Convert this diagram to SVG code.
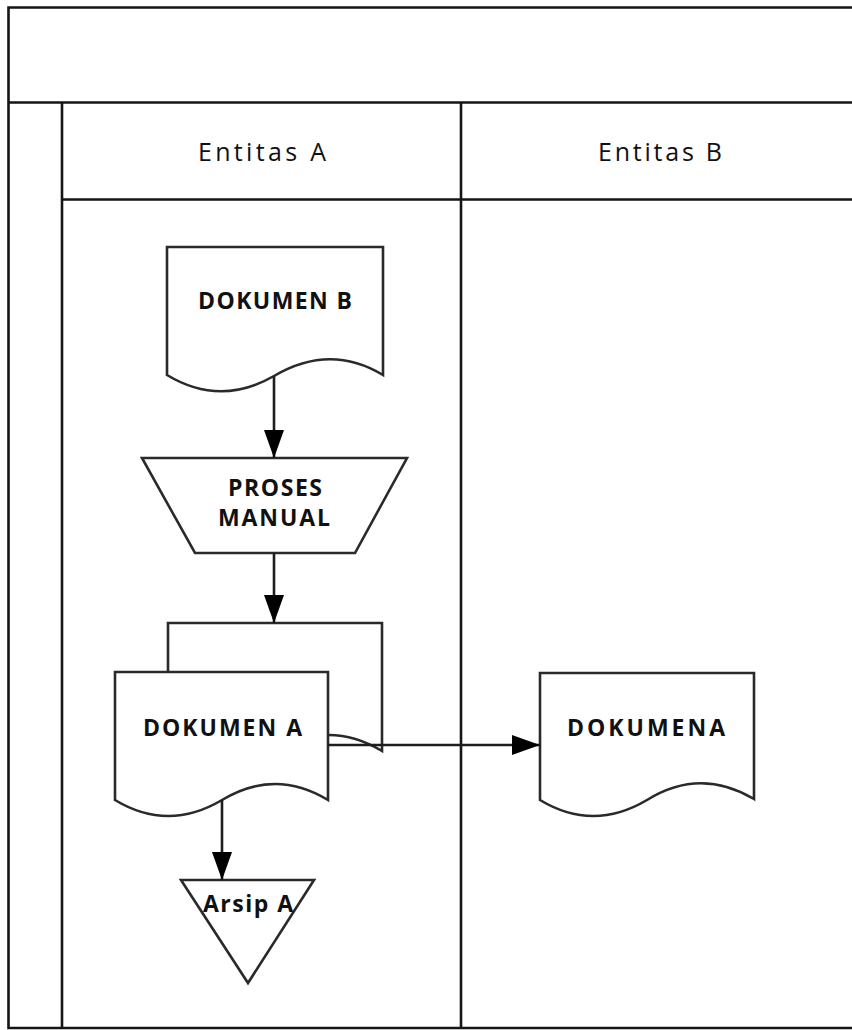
<svg xmlns="http://www.w3.org/2000/svg" width="852" height="1030" viewBox="0 0 852 1030">
  <style>
    .frame { fill: none; stroke: #151515; stroke-width: 2.6; }
    .shape { fill: #ffffff; stroke: #2a2a2a; stroke-width: 2.6; stroke-linejoin: miter; }
    .edge { fill: none; stroke: #1e1e1e; stroke-width: 2.6; }
    .lane { font-family: "Open Sans", "Liberation Sans", sans-serif; font-size: 25px; fill: #111; }
    .lbl { font-family: "Open Sans", "Liberation Sans", sans-serif; font-size: 23px; font-weight: bold; fill: #111; }
  </style>
  <defs>
    <marker id="arrow" markerUnits="userSpaceOnUse" markerWidth="30" markerHeight="22" refX="29" refY="11" orient="auto">
      <path d="M1,1 L29,11 L1,21 Z" fill="#000"/>
    </marker>
  </defs>

  <rect width="852" height="1030" fill="#ffffff"/>

  <!-- swimlane frame -->
  <g id="pool">
    <path class="frame" d="M852,7.5 H8.5 V1028 H852"/>
    <line class="frame" x1="8.5" y1="102.5" x2="852" y2="102.5" stroke-width="3"/>
    <line class="frame" x1="62" y1="199.5" x2="852" y2="199.5" stroke-width="3"/>
    <line class="frame" x1="62" y1="102" x2="62" y2="1028"/>
    <line class="frame" x1="461" y1="102" x2="461" y2="1028"/>
  </g>

  <g id="lane-a-header">
    <text class="lane" x="262" y="161" text-anchor="middle" textLength="128" lengthAdjust="spacing">Entitas A</text>
  </g>
  <g id="lane-b-header">
    <text class="lane" x="660" y="161" text-anchor="middle" textLength="124" lengthAdjust="spacing">Entitas B</text>
  </g>

  <!-- incoming document -->
  <g id="dokumen-b">
    <path class="shape" d="M167,247 H383 V375 Q330,343 274,376 Q220,407 167,375 Z"/>
    <text class="lbl" x="275" y="309" text-anchor="middle" textLength="154" lengthAdjust="spacing">DOKUMEN B</text>
  </g>

  <!-- manual operation -->
  <g id="proses-manual">
    <path class="shape" d="M142,458 H407 L355,553 H195 Z"/>
    <text class="lbl" x="275" y="496" text-anchor="middle" textLength="94" lengthAdjust="spacing">PROSES</text>
    <text class="lbl" x="274" y="526" text-anchor="middle" textLength="112" lengthAdjust="spacing">MANUAL</text>
  </g>

  <!-- document A with a copy stacked behind -->
  <g id="dokumen-a-copies">
    <path class="shape" d="M168,623 H382 V751 Q329,719 275,751 Q221,783 168,751 Z"/>
    <path class="shape" d="M115,672 H328 V800 Q275,768 222,800 Q168,832 115,800 Z"/>
    <text class="lbl" x="222.5" y="736" text-anchor="middle" textLength="159" lengthAdjust="spacing">DOKUMEN A</text>
  </g>

  <!-- document received by entity B -->
  <g id="dokumen-a-b">
    <path class="shape" d="M540,673 H754 V799 Q700,767 647,800 Q593,832 540,800 Z"/>
    <text class="lbl" x="646" y="736" text-anchor="middle" textLength="158" lengthAdjust="spacing">DOKUMENA</text>
  </g>

  <!-- archive -->
  <g id="arsip-a">
    <path class="shape" d="M181,880 H314 L248,983 Z"/>
    <text class="lbl" x="248" y="912" text-anchor="middle" textLength="90" lengthAdjust="spacing">Arsip A</text>
  </g>

  <!-- connectors -->
  <g id="connectors">
    <line class="edge" x1="274" y1="376" x2="274" y2="458" marker-end="url(#arrow)"/>
    <line class="edge" x1="274" y1="553" x2="274" y2="623" marker-end="url(#arrow)"/>
    <line class="edge" x1="328" y1="745" x2="540" y2="745" marker-end="url(#arrow)"/>
    <line class="edge" x1="222" y1="800" x2="222" y2="880" marker-end="url(#arrow)"/>
  </g>
</svg>
